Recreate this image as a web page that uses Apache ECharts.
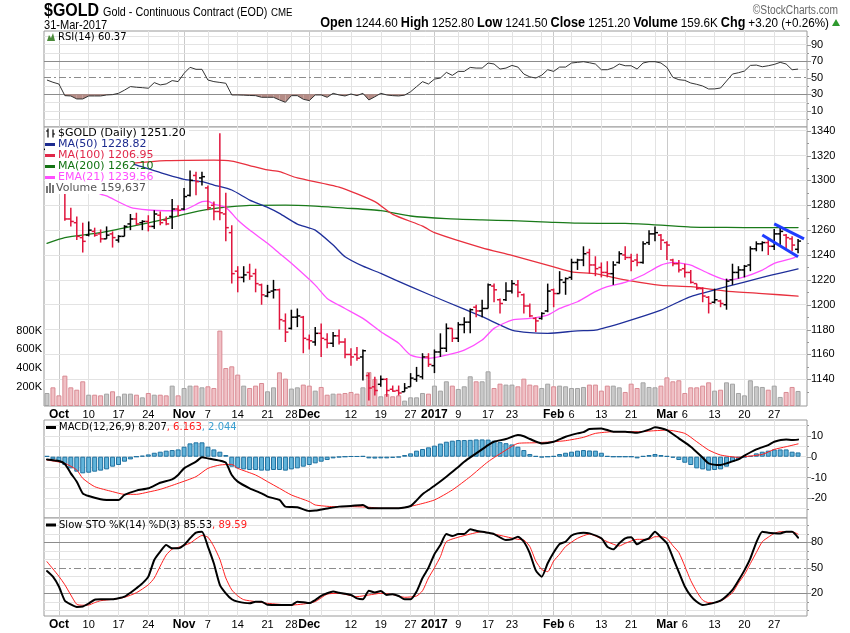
<!DOCTYPE html>
<html><head><meta charset="utf-8">
<script src="https://cdn.jsdelivr.net/npm/echarts@6/dist/echarts.min.js"></script>
<style>html,body{margin:0;padding:0;background:#fff}#c{width:850px;height:633px}</style>
</head><body><div id="c"></div>
<script>
// ---------- categories (trading days) ----------
const tradingDays = {
  '2016-09': [29,30],
  '2016-10': [3,4,5,6,7,10,11,12,13,14,17,18,19,20,21,24,25,26,27,28,31],
  '2016-11': [1,2,3,4,7,8,9,10,11,14,15,16,17,18,21,22,23,25,28,29,30],
  '2016-12': [1,2,5,6,7,8,9,12,13,14,15,16,19,20,21,22,23,27,28,29,30],
  '2017-01': [3,4,5,6,9,10,11,12,13,17,18,19,20,23,24,25,26,27,30,31],
  '2017-02': [1,2,3,6,7,8,9,10,13,14,15,16,17,21,22,23,24,27,28],
  '2017-03': [1,2,3,6,7,8,9,10,13,14,15,16,17,20,21,22,23,24,27,28,29,30,31]
};
const dates = [];
Object.keys(tradingDays).forEach(m => tradingDays[m].forEach(d => dates.push(m + '-' + String(d).padStart(2,'0'))));
const cats = dates.concat(['']);

// ---------- tick labels ----------
const tickDates = ['2016-10-03','2016-10-10','2016-10-17','2016-10-24','2016-11-01','2016-11-07','2016-11-14','2016-11-21','2016-11-28','2016-12-01','2016-12-12','2016-12-19','2016-12-27','2017-01-03','2017-01-09','2017-01-17','2017-01-23','2017-02-01','2017-02-06','2017-02-13','2017-02-21','2017-03-01','2017-03-06','2017-03-13','2017-03-20','2017-03-27'];
const tickTexts = ['Oct','10','17','24','Nov','7','14','21','28','Dec','12','19','27','2017','9','17','23','Feb','6','13','21','Mar','6','13','20','27'];
const boldTicks = ['Oct','Nov','Dec','2017','Feb','Mar'];
const weekLines = ['2016-10-10','2016-10-17','2016-10-24','2016-10-31','2016-11-07','2016-11-14','2016-11-21','2016-11-28','2016-12-05','2016-12-12','2016-12-19','2016-12-27','2017-01-09','2017-01-17','2017-01-23','2017-01-30','2017-02-06','2017-02-13','2017-02-21','2017-02-27','2017-03-06','2017-03-13','2017-03-20','2017-03-27'];
const monthLines = ['2016-10-03','2016-11-01','2016-12-01','2017-01-03','2017-02-01','2017-03-01'];

const priceTicks = [1140,1160,1180,1200,1220,1240,1260,1280,1300,1320,1340];
const priceMinor = [1130,1150,1170,1190,1210,1230,1250,1270,1290,1310,1330];
const rsiTicks = [90,70,50,30,10];
const rsiLight = [0,10,20,40,60,80,90,100];
const rsiDark = [30,70];
const rsiMinor = [0,20,40,60,80,100];
const macdTicks = [10,0,-10,-20];
const macdLight = [-25,-20,-15,-10,-5,0,5,10,15];
const macdMinor = [-25,-15,-5,5,15];
const stoTicks = [80,50,20];
const stoLight = [0,10,30,40,60,70,90,100];
const stoDark = [20,80];
const stoMinor = [0,10,30,40,60,70,90,100];

// ---------- price data ----------
const prevClose = 1320;
const open = [1325,1322,1317,1312,1269,1266,1254,1256,1259,1257,
1253,1257,1252,1255,1265,1269,1266,1267,1263,1272,
1268,1271,1277,1277,1288,1304,1302,1294,1280,1275,
1273,1258,1227,1222,1226,1225,1216,1207,1211,1212,
1187,1181,1190,1190,1172,1170,1177,1172,1169,1175,
1170,1160,1160,1158,1143,1134,1136,1140,1132,1131,
1130,1134,1140,1142,1158,1151,1162,1165,1181,1173,
1184,1186,1198,1195,1197,1215,1204,1204,1211,1216,
1208,1199,1189,1189,1195,1212,1209,1218,1222,1234,
1236,1242,1232,1230,1226,1225,1234,1240,1238,1236,
1234,1250,1257,1256,1250,1236,1233,1229,1226,1217,
1213,1206,1202,1203,1200,1220,1226,1228,1232,1245,
1249,1250,1247,1257,1256,1253,1244.6];
const high = [1330,1326,1320,1314,1278,1271,1266,1267,1262,1260.6,
1263,1259,1256,1264,1273,1274,1268,1272,1276,1275,
1271,1285,1280,1294,1308,1307,1307,1296,1283,1338,
1290,1264,1231,1231,1233,1229,1217,1216,1220,1213,
1193,1196,1197,1191,1176,1182,1185,1177,1178,1180,
1173,1165,1166,1164,1145,1142,1143,1141,1135,1135,
1137,1145,1150,1161,1161,1164,1177,1185,1181,1186,
1190,1197,1200,1204,1217,1217,1205,1218,1220,1220,
1209,1201,1190,1194,1217,1213,1227,1222,1237,1237,
1247,1245,1239,1234,1235,1235,1243,1247,1241,1241,
1251,1260,1263,1257,1251,1237,1236,1233,1228,1217,
1214,1207,1213,1204,1221,1233,1231,1232,1247,1251,
1251,1253,1261,1263,1257,1255,1252.8];
const low = [1317,1312,1308,1267.5,1263,1252,1242,1255,1254.7,1250,
1253,1246,1250,1255,1260,1264,1260,1259,1261,1264,
1264,1261,1271,1276,1287,1288,1296,1276,1268,1268,
1251,1217,1210,1218,1220,1210,1200,1206,1205,1180,
1170,1180,1182,1161,1164,1167,1158,1165,1166,1168,
1157,1151,1155,1139,1123,1127,1134,1126,1130,1127,
1130,1134,1138,1140,1150,1145,1158,1162,1170,1170,
1177,1177,1190,1190,1197,1202,1193,1203,1209,1206,
1193,1190,1178,1188,1194,1198,1209,1208,1220,1228,
1231,1225,1223,1222,1222,1216,1233,1236,1227,1231,
1233,1248,1251,1244,1236,1231,1226,1222,1217,1212,
1202,1193,1201,1198,1196,1216,1221,1222,1227,1243,
1243,1240,1244,1248,1245,1243,1241.5];
const close = [1322,1317,1313,1269,1267,1255,1251,1260,1256,1253,
1256,1254,1255,1263,1269,1265,1267,1263,1273,1266,
1265,1277,1276,1287,1300,1299,1303,1278,1275,1274,
1262,1225,1222,1224,1223,1217,1208,1210,1212,1188,
1178,1190,1191,1173,1171,1177,1173,1169,1175,1170,
1160,1158,1157,1163,1133,1131,1140,1131,1130.5,1129,
1133,1141,1143,1158,1152,1162,1165,1181,1173,1184,
1186,1196,1195,1197,1216,1212,1201,1211,1217,1210,
1199,1191,1187,1193,1211,1209,1220,1221,1234,1236,
1241,1232,1229,1226,1225,1232,1241,1238,1235,1234,
1249,1257,1258,1252,1248,1233,1228,1226,1218,1213,
1207,1201,1204,1201,1219,1226,1228,1231,1245,1249,
1250,1247,1257,1259,1254,1248,1251.2];
const volumeK = [138,198,113,322,198,173,262,120,120,113,
131,156,103,131,131,120,92,138,120,120,
113,216,113,191,216,216,198,209,191,800,
403,421,333,216,191,216,244,156,198,357,
290,185,198,227,216,163,202,120,131,131,
138,149,131,198,361,287,103,127,103,113,
57,92,92,138,131,216,163,262,216,181,
209,315,262,262,368,191,237,227,227,209,
290,227,219,191,237,209,216,209,191,191,
202,227,227,163,216,216,198,149,237,191,
251,202,198,216,304,262,273,138,198,198,
216,251,163,173,251,237,138,113,273,209,
202,173,216,96,149,202,159.637];

// moving averages: [barIndex, value]
const ma50 = [[0,1328],[8,1320],[14,1313.7],[20,1304.9],[23,1300.9],[26,1299],[28,1296.3],[31,1292.3],[34,1284.2],[37,1278.3],[39,1273.5],[42,1264.9],[45,1260],[48,1248],[50,1238.6],[53,1231],[56,1225.2],[61,1214.5],[67,1202.4],[73,1190.4],[78,1179.6],[81,1177.5],[84,1177],[89,1179],[92,1179.6],[97,1186.3],[103,1195.7],[106,1202.4],[108,1206.5],[114,1214.5],[120,1222],[123,1225.5],[126,1228.82]];
const ma100 = [[0,1305],[9,1311],[14,1313.7],[20,1315.9],[28,1316.4],[31,1315.6],[34,1312],[37,1308.4],[39,1307],[42,1302],[49,1294.6],[55,1282.9],[58,1272.7],[63,1263.3],[65,1258],[73,1245.8],[78,1239.8],[85,1230.4],[88,1226.4],[92,1225],[97,1220],[103,1215.5],[108,1214.5],[114,1211],[120,1209],[126,1206.95]];
const ma200 = [[0,1249.4],[3,1254],[9,1258],[14,1262.8],[20,1269],[23,1272.7],[27,1276.7],[31,1278.9],[34,1280],[40,1280.2],[45,1279.4],[50,1277.8],[56,1275.7],[61,1271.4],[67,1269.2],[73,1268.2],[78,1267.6],[84,1266.5],[89,1265.6],[97,1265.4],[103,1264],[108,1262.4],[114,1262.2],[120,1262],[126,1262.1]];
const ema21 = [[0,1318],[3,1308],[6,1297],[9,1289],[10,1287.5],[14,1278.3],[17,1276.2],[20,1275.6],[23,1276.2],[26,1282.9],[27,1283.4],[28,1281],[30,1278.3],[32,1268.2],[34,1260.1],[37,1249.4],[39,1241.3],[41,1233.3],[45,1215.8],[47,1205.1],[50,1197],[53,1189],[56,1178.3],[59,1169],[61,1159.5],[64,1156.8],[67,1159.5],[70,1163.5],[73,1171.6],[75,1181],[78,1187.7],[81,1189],[84,1191.7],[86,1197],[89,1202.4],[92,1210.5],[94,1214.5],[97,1218],[100,1223.9],[103,1231.9],[105,1234],[108,1231.9],[111,1225.2],[114,1219.9],[117,1222.5],[120,1227.9],[122,1233.3],[125,1237.3],[126,1239.56]];
const trendUpper = [[122,1265],[127,1253]];
const trendLower = [[120,1256.1],[126,1238.6]];

// ---------- indicators ----------
const rsi = [47.2,44.5,42.4,28.4,28.0,24.4,24.4,28.0,28.0,28.0,
29.2,29.6,31.2,35.0,39.3,38.5,38.0,37.3,44.1,41.3,
42.5,46.5,45.3,55.3,62.5,60.1,60.1,47.2,45.3,44.3,
43.3,29.2,29.2,29.0,28.6,28.4,26.4,26.4,26.4,23.2,
20.4,28.4,28.4,24.0,22.4,29.2,29.2,26.4,31.2,29.2,
28.0,30.4,28.4,31.2,23.2,27.0,31.2,29.2,28.4,28.0,
29.0,33.1,39.2,45.2,42.4,48.3,49.6,56.4,52.8,57.6,
57.6,62.4,61.6,61.6,67.7,66.5,60.4,61.6,64.8,62.8,
54.4,51.0,49.6,53.0,59.6,57.6,62.8,62.8,67.7,68.5,
69.3,68.0,66.5,59.6,59.6,62.0,66.5,64.4,64.4,60.4,
67.7,69.3,69.3,67.7,62.4,50.4,47.6,46.8,43.6,42.0,
40.0,36.4,36.5,37.6,46.0,54.4,56.0,58.0,64.8,65.2,
63.2,64.4,66.0,68.5,66.5,59.6,60.37];
const macdLine = [[0,-1.3],[2,-2.1],[3,-3.5],[4,-8.0],[5,-12.0],[6,-17.6],[7,-18.9],[9,-20.5],[10,-20.8],[12,-20.8],[13,-18.4],[15,-16.3],[17,-15.2],[19,-12.5],[21,-10.9],[22,-8.8],[23,-5.6],[25,-2.4],[26,-0.3],[27,-0.8],[29,-1.9],[30,-2.9],[31,-8.8],[32,-12.0],[34,-15.2],[36,-17.6],[37,-19.2],[39,-20.8],[40,-24.0],[42,-24.3],[44,-26.1],[45,-25.9],[47,-24.9],[49,-24.0],[51,-23.7],[53,-23.2],[54,-24.8],[55,-24.8],[58,-24.8],[59,-24.8],[61,-23.7],[62,-21.0],[63,-18.0],[64,-16.0],[65,-14.0],[67,-9.6],[69,-5.0],[70,-2.4],[72,1.6],[74,5.6],[75,7.2],[77,8.5],[79,10.4],[80,9.8],[81,8.5],[83,6.4],[85,7.2],[87,9.6],[89,11.2],[90,11.8],[91,13.3],[93,13.6],[95,12.0],[97,12.0],[99,11.5],[101,13.0],[102,14.1],[104,12.8],[106,8.8],[108,4.8],[110,-0.5],[111,-3.2],[113,-4.0],[114,-3.2],[116,-1.3],[117,0.5],[119,3.5],[121,5.6],[122,7.2],[124,8.3],[125,8.0],[126,8.207]];
const macdSignal = [[0,-1.6],[3,-3.2],[5,-6.4],[6,-10.4],[8,-14.4],[11,-16.8],[13,-18.1],[15,-18.1],[17,-17.0],[19,-15.7],[22,-12.8],[25,-9.6],[27,-5.6],[29,-4.0],[31,-3.7],[32,-5.6],[35,-8.8],[37,-12.0],[39,-15.2],[41,-18.4],[44,-21.6],[45,-23.2],[48,-24.0],[51,-24.0],[54,-24.3],[56,-24.8],[59,-24.8],[62,-23.2],[65,-20.8],[68,-16.0],[71,-9.6],[74,-2.4],[77,3.2],[79,6.4],[82,6.7],[85,7.2],[87,7.7],[90,9.3],[92,11.2],[95,12.0],[99,12.0],[102,12.5],[104,12.8],[107,11.2],[109,7.2],[111,3.2],[113,0.8],[116,-0.3],[117,0],[120,1.1],[122,3.5],[124,4.8],[126,6.163]];
const macdHist = [0.3,-1.3,-2.4,-4.0,-5.6,-7.2,-8.0,-7.7,-7.2,-6.7,
-6.1,-4.8,-4.0,-2.4,-1.3,0,0.5,1.1,1.9,2.4,
2.9,3.2,3.5,4.8,6.4,6.9,6.9,4.8,3.5,2.4,
0.8,-4.8,-5.6,-6.1,-6.4,-6.4,-6.7,-6.7,-6.4,-6.4,
-6.7,-6.1,-5.6,-4.8,-4.0,-3.2,-2.4,-1.6,-0.8,-0.3,
0,0.2,0.2,0.3,-0.8,-0.9,-0.8,-0.8,-0.6,-0.3,
0.8,1.6,2.9,3.7,4.5,5.3,6.3,7.2,7.7,8.0,
8.0,8.1,8.3,8.3,8.2,7.7,7.0,6.5,5.9,4.8,
3.2,1.3,0.3,-0.3,0,0.3,1.3,1.9,2.4,2.9,
3.2,3.0,2.9,1.9,0.3,0,0,0,0,-0.8,
0.3,0.8,1.3,0.8,0.3,-0.5,-1.6,-2.9,-4.0,-5.6,
-6.1,-6.7,-6.4,-6.1,-4.8,-2.4,-1.3,-0.3,0.3,1.6,
2.4,2.9,3.5,3.5,3.5,2.4,2.044];
const stoK = [[0,46.2],[1,39.6],[2,28],[3,11.3],[4,7.0],[5,4],[6,4.5],[7,8],[8,12.5],[9,12.9],[11,12.9],[12,14.1],[13,16],[14,20.7],[15,26],[16,31.7],[17,39.6],[18,59.2],[19,69.0],[20,76.8],[21,72.9],[22,72.9],[23,76.8],[24,84.7],[25,91.3],[26,92.5],[27,75],[28,55],[29,30],[30,20.0],[31,13],[32,10.2],[34,8.2],[35,10.2],[36,10.2],[37,6.5],[39,6.2],[41,6.2],[42,10.2],[43,9.5],[44,8.5],[45,12],[46,17],[47,20.0],[48,22.0],[49,20.7],[51,18.0],[52,14],[53,13],[54,23],[55,21],[56,22.7],[57,18.0],[58,19],[59,16.8],[60,12.9],[61,12.9],[62,22],[63,38],[64,50],[65,66],[66,76.8],[67,89.7],[68,87.4],[69,89.7],[70,89.7],[71,95.3],[72,93.7],[74,91.3],[75,89.7],[77,82.7],[78,83.5],[79,86.6],[80,80.7],[81,67.0],[82,47],[83,39.6],[84,55.3],[85,68],[86,78.0],[87,80.7],[88,88],[89,90.5],[90,91.3],[91,90.5],[93,84.7],[94,74.9],[95,71.7],[96,78.8],[97,84.7],[98,85.9],[99,77.6],[100,82.0],[101,84.7],[102,92.5],[103,85.9],[104,78.8],[105,62],[106,45],[107,28],[108,17],[109,10],[110,6.2],[111,7.4],[112,9],[113,11.3],[114,16.8],[115,24],[116,35],[117,47],[118,61.1],[119,80],[120,92.5],[121,91.3],[122,90.8],[123,90.5],[124,92.5],[125,92.5],[126,85.53]];
const stoD = [[0,57.2],[2,40],[3,30],[4,18],[5,7],[6,6],[7,6.2],[8,9],[9,11.3],[11,12.9],[13,15.3],[15,20.7],[17,30],[18,38],[19,52],[20,65],[21,72],[22,74],[24,79],[25,84],[26,88],[27,86],[28,75],[29,60],[30,38],[31,24],[32,17],[33,12.5],[35,10.2],[37,8.2],[41,6.2],[43,7.4],[45,10.2],[47,19],[49,20],[52,16.1],[54,18.0],[56,20.0],[58,18.5],[60,15.3],[62,16.8],[63,23],[64,38],[65,50],[66,63.1],[67,80.7],[69,86],[71,89.7],[73,92.5],[75,89.7],[77,86.6],[79,83.5],[80,82.7],[81,75],[82,58],[83,48],[84,45.5],[85,58],[86,66],[87,75],[89,84.7],[91,89.7],[92,87.4],[94,80.7],[96,75.7],[97,78.8],[99,83.5],[101,83.5],[102,86.6],[103,86.6],[104,84.7],[105,76],[106,68],[107,52],[108,35],[109,22],[110,12],[111,9],[112,9],[113,11],[114,15],[115,20.7],[116,32],[117,42],[118,55],[119,68],[120,80.7],[121,86],[122,90.5],[123,92.5],[124,92.5],[125,92.5],[126,89.59]];

// ---------- layout ----------
const L = 44, R = 43;
const panels = {
  rsi:  {top: 31,  height: 96,  min: -9.40,   max: 106.27},
  main: {top: 127, height: 279, min: 1118.54, max: 1342.98},
  macd: {top: 420, height: 98,  min: -29.47,  max: 17.64},
  sto:  {top: 518, height: 98,  min: -6.7,    max: 108.6}
};
const LIGHT = '#e3e3e3', DARK = '#8c8c8c';
const tickMap = {}; tickDates.forEach((d,i) => tickMap[d] = tickTexts[i]);

function vLineData() {
  return weekLines.map(d => ({xAxis: d, lineStyle: {color: LIGHT, width: 1, type: 'solid'}, label: {show: false}}))
    .concat(monthLines.map(d => ({xAxis: d, lineStyle: {color: '#cacaca', width: 1, type: 'solid'}, label: {show: false}})));
}
function hLine(v, color, type, labels) {
  return {yAxis: v, lineStyle: {color: color, width: 1, type: type},
    label: {show: labels.indexOf(v) >= 0, position: 'end', distance: 4, formatter: String(v), color: '#000', fontSize: 11, fontFamily: 'Liberation Sans'}};
}
function gridSeries(idx, yIdx, hData) {
  return {type: 'line', xAxisIndex: idx, yAxisIndex: yIdx, data: cats.map(() => null), z: 0, silent: true,
    markLine: {z: 0, symbol: ['none','none'], silent: true, animation: false, data: vLineData().concat(hData)}};
}
// small tick marks on the right edge of each panel
function tickSeries(idx, yIdx, majors, minors) {
  return {type: 'custom', xAxisIndex: idx, yAxisIndex: yIdx, z: 1, silent: true, clip: false,
    data: majors.map(v => [0, v, 4]).concat(minors.map(v => [0, v, 2])),
    encode: {x: 0, y: 1},
    renderItem: (params, api) => {
      const p = api.coord([0, api.value(1)]);
      const xr = params.coordSys.x + params.coordSys.width;
      return {type: 'line', shape: {x1: xr, y1: Math.round(p[1]) + 0.5, x2: xr + api.value(2), y2: Math.round(p[1]) + 0.5}, style: {stroke: '#999', lineWidth: 1}};
    }};
}
function xa(gi, show) {
  return {type: 'category', gridIndex: gi, data: cats, boundaryGap: true,
    axisLine: {show: false}, axisTick: {show: false}, splitLine: {show: false},
    axisLabel: show ? {show: true, interval: (i, v) => tickMap[v] !== undefined,
      formatter: v => { const t = tickMap[v] || ''; return boldTicks.indexOf(t) >= 0 ? '{b|' + t + '}' : t; },
      margin: 3, fontSize: 11, fontFamily: 'Liberation Sans', color: '#000',
      rich: {b: {fontWeight: 'bold', fontSize: 12, fontFamily: 'Liberation Sans', color: '#000'}}} : {show: false}};
}
function ya(gi, p) {
  return {type: 'value', gridIndex: gi, min: p.min, max: p.max, show: false, splitLine: {show: false}};
}

const ohlcData = close.map((c, i) => [i, open[i], high[i], low[i], c, c >= (i ? close[i-1] : prevClose) ? 1 : 0]);
const volData = volumeK.map((v, i) => {
  const up = close[i] >= (i ? close[i-1] : prevClose);
  return {value: v * 1000, itemStyle: up ? {color: '#c9c9c9', borderColor: '#a3a3a3', borderWidth: 1} : {color: '#f0c0c5', borderColor: '#d98a93', borderWidth: 1}};
});

const lineS = (data, color, width, xi, yi, z) => ({type: 'line', data: data, xAxisIndex: xi, yAxisIndex: yi, showSymbol: false, symbol: 'none', smooth: 0.2, z: z || 3, silent: true, lineStyle: {color: color, width: width, type: 'solid', cap: 'round', join: 'round'}});

const rsiShade = {
  type: 'custom', xAxisIndex: 0, yAxisIndex: 0, z: 2, silent: true,
  data: rsi.map((v, i) => [i, v]),
  renderItem: (params, api) => {
    const i = params.dataIndex;
    if (i >= rsi.length - 1) return null;
    const v0 = rsi[i], v1 = rsi[i+1];
    if (v0 >= 30 && v1 >= 30) return null;
    const p0 = api.coord([i, v0]), p1 = api.coord([i+1, v1]);
    const base = api.coord([i, 30])[1];
    let pts;
    if (v0 < 30 && v1 < 30) pts = [[p0[0], base], p0, p1, [p1[0], base]];
    else if (v0 < 30) { const t = (30 - v0) / (v1 - v0); const xc = p0[0] + t * (p1[0] - p0[0]); pts = [[p0[0], base], p0, [xc, base]]; }
    else { const t = (v0 - 30) / (v0 - v1); const xc = p0[0] + t * (p1[0] - p0[0]); pts = [[xc, base], p1, [p1[0], base]]; }
    return {type: 'polygon', shape: {points: pts}, style: {fill: '#b58c86'}};
  }
};

const ohlcSeries = {
  type: 'custom', xAxisIndex: 1, yAxisIndex: 1, z: 5, silent: true, data: ohlcData,
  encode: {x: 0, y: [1,2,3,4]},
  renderItem: (params, api) => {
    const i = api.value(0);
    const o = api.coord([i, api.value(1)]), h = api.coord([i, api.value(2)]), l = api.coord([i, api.value(3)]), c = api.coord([i, api.value(4)]);
    const col = api.value(5) > 0 ? '#000000' : '#e0143c';
    const st = {stroke: col, lineWidth: 1.5};
    const w = 3;
    return {type: 'group', children: [
      {type: 'line', shape: {x1: h[0], y1: h[1], x2: l[0], y2: l[1]}, style: st},
      {type: 'line', shape: {x1: o[0] - w, y1: o[1], x2: o[0], y2: o[1]}, style: st},
      {type: 'line', shape: {x1: c[0], y1: c[1], x2: c[0] + w, y2: c[1]}, style: st}
    ]};
  }
};

const F = '"DejaVu Sans"';
const HF = '"Liberation Sans", Arial, sans-serif';
function txt(x, y, text, font, fill, align, sx) {
  return {type: 'text', x: x, y: y, z: 100, silent: true, scaleX: sx || 1, originX: 0, originY: 0,
    style: {text: text, font: font, fill: fill, textAlign: align || 'left', align: align || 'left', textVerticalAlign: 'middle', verticalAlign: 'middle'}};
}
function dash(x, y, color) { return {type: 'rect', z: 100, silent: true, shape: {x: x, y: y - 1.5, width: 10, height: 3}, style: {fill: color}}; }

const graphics = [
  txt(44, 11, '$GOLD', 'bold 19px ' + HF, '#000', 'left', 0.84),
  txt(103, 12, 'Gold - Continuous Contract (EOD)', '13px ' + HF, '#000', 'left', 0.83),
  txt(271, 12.5, 'CME', '11px ' + HF, '#000', 'left', 0.88),
  txt(838, 11, '\u00A9StockCharts.com', '12px ' + HF, '#666', 'right', 0.85),
  txt(44, 25.5, '31-Mar-2017', '13px ' + HF, '#000', 'left', 0.85),
  {type: 'text', x: 829, y: 23, z: 100, silent: true, scaleX: 0.9, originX: 0, originY: 0, style: {
    text: '{b|Open} {n|1244.60} {b|High} {n|1252.80} {b|Low} {n|1241.50} {b|Close} {n|1251.20} {b|Volume} {n|159.6K} {b|Chg} {n|+3.20 (+0.26%)}',
    textAlign: 'right', align: 'right', textVerticalAlign: 'middle', verticalAlign: 'middle',
    rich: {b: {font: 'bold 14px ' + HF, fill: '#000'}, n: {font: '13px ' + HF, fill: '#000'}}}},
  {type: 'polygon', z: 100, silent: true, shape: {points: [[832,26],[840,26],[836,19]]}, style: {fill: '#2e9a2e'}},
  // RSI legend
  {type: 'polygon', z: 100, silent: true, shape: {points: [[47,41],[49,35],[51,38],[53,33],[55,41]]}, style: {fill: '#4b8b3b'}},
  txt(58, 37.5, 'RSI(14) 60.37', '10px ' + F, '#000'),
  // main legend background
  {type: 'rect', z: 99, silent: true, shape: {x: 45, y: 128, width: 89, height: 66}, style: {fill: '#fff'}},
  {type: 'rect', z: 99, silent: true, shape: {x: 45, y: 128, width: 144, height: 12}, style: {fill: '#fff'}},
  {type: 'line', z: 100, silent: true, shape: {x1: 48, y1: 128.5, x2: 48, y2: 137.5}, style: {stroke: '#000', lineWidth: 1.2}},
  {type: 'line', z: 100, silent: true, shape: {x1: 46, y1: 131, x2: 48, y2: 131}, style: {stroke: '#000', lineWidth: 1.2}},
  {type: 'line', z: 100, silent: true, shape: {x1: 53, y1: 129.5, x2: 53, y2: 137.5}, style: {stroke: '#000', lineWidth: 1.2}},
  {type: 'line', z: 100, silent: true, shape: {x1: 53, y1: 134, x2: 55, y2: 134}, style: {stroke: '#000', lineWidth: 1.2}},
  txt(58, 133, '$GOLD (Daily) 1251.20', '11px ' + F, '#000'),
  dash(45, 144.5, '#1c2b8f'), txt(58, 144.5, 'MA(50) 1228.82', '11px ' + F, '#1c2b8f'),
  dash(45, 155.5, '#e0284a'), txt(58, 155.5, 'MA(100) 1206.95', '11px ' + F, '#e0284a'),
  dash(45, 166.5, '#137313'), txt(58, 166.5, 'MA(200) 1262.10', '11px ' + F, '#137313'),
  dash(45, 177.5, '#ff4fff'), txt(58, 177.5, 'EMA(21) 1239.56', '11px ' + F, '#ff4fff'),
  {type: 'rect', z: 100, silent: true, shape: {x: 46, y: 186, width: 2, height: 7}, style: {fill: '#777'}},
  {type: 'rect', z: 100, silent: true, shape: {x: 49, y: 183, width: 2, height: 10}, style: {fill: '#777'}},
  {type: 'rect', z: 100, silent: true, shape: {x: 52, y: 185, width: 2, height: 8}, style: {fill: '#777'}},
  txt(56, 188, 'Volume 159,637', '11px ' + F, '#555'),
  // MACD legend
  dash(46, 427.5, '#000'),
  {type: 'text', x: 59, y: 427.5, z: 100, silent: true, style: {
    text: '{a|MACD(12,26,9) 8.207}{r|, 6.163}{c|, 2.044}', textVerticalAlign: 'middle', verticalAlign: 'middle',
    rich: {a: {font: '10px ' + F, fill: '#000'}, r: {font: '10px ' + F, fill: '#ff2020'}, c: {font: '10px ' + F, fill: '#3a9fd0'}}}},
  // STO legend
  dash(46, 525, '#000'),
  {type: 'text', x: 59, y: 525, z: 100, silent: true, style: {
    text: '{a|Slow STO %K(14) %D(3) 85.53}{r|, 89.59}', textVerticalAlign: 'middle', verticalAlign: 'middle',
    rich: {a: {font: '10px ' + F, fill: '#000'}, r: {font: '10px ' + F, fill: '#ff2020'}}}}
];

const rsiH = rsiLight.map(v => hLine(v, LIGHT, 'solid', rsiTicks)).concat(rsiDark.map(v => hLine(v, DARK, 'solid', rsiTicks))).concat([hLine(50, '#8c8c8c', [7,3,2,3], rsiTicks)]);
const mainH = priceTicks.map(v => hLine(v, LIGHT, 'solid', priceTicks));
const macdH = macdLight.map(v => hLine(v, LIGHT, 'solid', macdTicks));
const stoH = stoLight.map(v => hLine(v, LIGHT, 'solid', stoTicks)).concat(stoDark.map(v => hLine(v, DARK, 'solid', stoTicks))).concat([hLine(50, '#8c8c8c', [7,3,2,3], stoTicks)]);

const gridBase = {left: L, right: R, show: true, borderColor: '#9a9a9a', borderWidth: 1, backgroundColor: '#fff'};
const option = {
  animation: false,
  backgroundColor: '#fff',
  grid: [
    Object.assign({top: panels.rsi.top, height: panels.rsi.height}, gridBase),
    Object.assign({top: panels.main.top, height: panels.main.height}, gridBase),
    Object.assign({top: panels.macd.top, height: panels.macd.height}, gridBase),
    Object.assign({top: panels.sto.top, height: panels.sto.height}, gridBase)
  ],
  xAxis: [xa(0, false), xa(1, true), xa(2, false), xa(3, true)],
  yAxis: [
    ya(0, panels.rsi), ya(1, panels.main),
    {type: 'value', gridIndex: 1, min: 0, max: 2960000, interval: 200000, position: 'left',
      axisLine: {show: false}, axisTick: {show: false}, splitLine: {show: false},
      axisLabel: {margin: 2, fontSize: 11, fontFamily: 'Liberation Sans', color: '#000',
        formatter: v => (v > 0 && v <= 800000) ? (v / 1000) + 'K' : ''}},
    ya(2, panels.macd), ya(3, panels.sto)
  ],
  graphic: graphics,
  series: [
    gridSeries(0, 0, rsiH),
    gridSeries(1, 1, mainH),
    gridSeries(2, 3, macdH),
    gridSeries(3, 4, stoH),
    tickSeries(0, 0, rsiTicks, rsiMinor),
    tickSeries(1, 1, priceTicks, priceMinor),
    tickSeries(2, 3, macdTicks, macdMinor),
    tickSeries(3, 4, stoTicks, stoMinor),
    rsiShade,
    {type: 'line', data: rsi, xAxisIndex: 0, yAxisIndex: 0, showSymbol: false, symbol: 'none', z: 3, silent: true, lineStyle: {color: '#333', width: 1}},
    {type: 'bar', data: volData, xAxisIndex: 1, yAxisIndex: 2, barWidth: 5, z: 2, silent: true},
    lineS(ma200, '#1a7a1a', 1.3, 1, 1),
    lineS(ma100, '#e8303e', 1.3, 1, 1),
    lineS(ma50, '#1f2f9a', 1.3, 1, 1),
    lineS(ema21, '#ff4fff', 1.3, 1, 1),
    ohlcSeries,
    {type: 'line', data: trendUpper, xAxisIndex: 1, yAxisIndex: 1, showSymbol: false, symbol: 'none', z: 6, silent: true, lineStyle: {color: '#1f3dff', width: 3}},
    {type: 'line', data: trendLower, xAxisIndex: 1, yAxisIndex: 1, showSymbol: false, symbol: 'none', z: 6, silent: true, lineStyle: {color: '#1f3dff', width: 3}},
    {type: 'bar', data: macdHist, xAxisIndex: 2, yAxisIndex: 3, barWidth: 5, z: 2, silent: true, itemStyle: {color: '#62b4da', borderColor: '#1f71a0', borderWidth: 1}},
    lineS(macdSignal, '#ff2020', 1, 2, 3),
    lineS(macdLine, '#000', 2, 2, 3, 4),
    lineS(stoD, '#ff2020', 1, 3, 4),
    lineS(stoK, '#000', 2, 3, 4, 4)
  ]
};
const chart = echarts.init(document.getElementById('c'));
chart.setOption(option);
</script>
</body></html>
